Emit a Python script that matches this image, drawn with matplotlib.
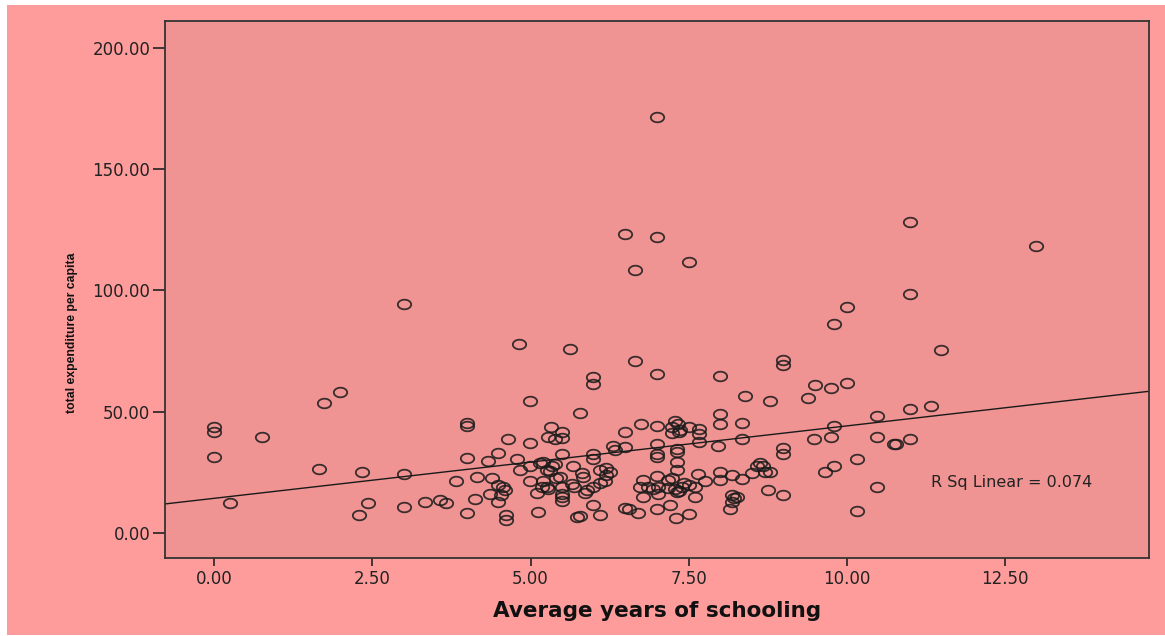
import numpy as np
import matplotlib
matplotlib.use("Agg")
import matplotlib.pyplot as plt
from matplotlib.path import Path
from matplotlib.patches import Rectangle

# points (years of schooling, expenditure per capita)
schooling = [
    0.0, 0.0, 0.0, 0.25, 0.75, 1.66, 1.74, 1.99, 2.29, 2.34, 2.43,
    3.0, 3.0, 3.0, 3.33, 3.57, 3.67, 3.82,
    3.99, 3.99, 3.99, 3.99, 4.12, 4.15, 4.32, 4.36, 4.39,
    4.49, 4.49, 4.57, 4.6, 4.54, 4.49, 4.62, 4.62,
    4.65, 4.79, 4.82, 4.83, 4.99, 4.99, 4.99, 4.99,
    5.1, 5.12, 5.15, 5.2, 5.26, 5.31, 5.39, 5.34,
    5.2, 5.18, 5.26, 5.28, 5.32, 5.28, 5.38, 5.5, 5.5,
    5.41, 5.47, 5.49, 5.49, 5.49, 5.49, 5.49,
    5.62, 5.67, 5.69, 5.65, 5.73, 5.78, 5.79, 5.81, 5.83, 5.86, 5.89,
    5.99, 5.99, 5.99, 5.99, 5.99, 5.99, 6.1,
    6.1, 6.2, 6.26, 6.2, 6.18, 6.1,
    6.31, 6.34, 6.49, 6.49, 6.5, 6.49, 6.55,
    6.66, 6.66, 6.7, 6.74, 6.73, 6.86, 6.94, 7.02, 6.78, 6.78,
    7.0, 7.0, 7.0, 7.0, 7.0, 7.0, 7.0, 7.0, 7.02, 7.0,
    7.18, 7.24, 7.18, 7.29, 7.39, 7.34, 7.5, 7.6, 7.2,
    7.23, 7.28, 7.33, 7.36, 7.23, 7.34, 7.31,
    7.32, 7.32, 7.32, 7.32, 7.3, 7.42, 7.5, 7.5, 7.5, 7.6, 7.65,
    7.67, 7.67, 7.67, 7.76, 7.97, 7.99, 7.99, 8.0, 8.0, 8.0,
    8.15, 8.18, 8.18, 8.21, 8.26, 8.18, 8.34, 8.34, 8.34, 8.39, 8.5,
    8.58, 8.63, 8.68, 8.71, 8.79, 8.75, 8.79,
    9.0, 9.0, 9.0, 9.0, 9.0, 9.39, 9.49, 9.5, 9.66, 9.75, 9.75,
    9.8, 9.8, 9.8, 10.0, 10.0, 10.16, 10.16, 10.48, 10.48, 10.48,
    10.75, 10.78, 11.0, 11.0, 11.0, 11.0, 11.33, 11.49, 13.0,
]
expenditure = [
    43.8, 41.4, 31.1, 12.4, 39.4, 26.2, 53.7, 58.1, 7.2, 25.2, 12.4,
    94.4, 24.3, 10.6, 12.8, 13.6, 12.4, 21.1,
    45.2, 44.0, 31.0, 8.0, 13.9, 22.9, 29.6, 15.8, 22.5,
    32.8, 19.7, 18.7, 17.6, 15.6, 12.8, 7.3, 5.3,
    38.6, 30.3, 77.8, 25.9, 54.5, 36.8, 27.5, 21.1,
    16.5, 8.7, 28.6, 29.3, 25.9, 25.5, 28.4, 27.3,
    21.1, 19.0, 18.8, 17.9, 43.8, 39.5, 38.8, 41.5, 39.2,
    22.5, 23.1, 32.3, 18.8, 16.0, 14.6, 13.2,
    76.0, 27.5, 19.0, 20.1, 6.6, 7.0, 49.5, 24.8, 23.0, 16.3, 17.6,
    64.4, 61.3, 32.3, 30.3, 19.0, 11.4, 7.3,
    25.9, 26.6, 25.2, 23.8, 21.1, 20.4,
    35.8, 34.1, 35.5, 41.7, 123.3, 10.1, 9.6,
    108.5, 71.0, 8.0, 44.8, 19.0, 18.8, 17.9, 18.8, 21.8, 14.6,
    171.8, 122.2, 65.5, 44.2, 36.5, 32.3, 31.1, 23.4, 16.0, 9.9,
    21.8, 22.5, 18.3, 17.9, 18.8, 17.3, 19.7, 19.0, 11.4,
    43.5, 46.0, 44.7, 42.5, 41.2, 41.7, 16.9,
    34.5, 33.2, 29.1, 25.9, 5.9, 20.4, 111.8, 43.8, 7.7, 14.5, 24.2,
    42.8, 40.8, 37.6, 21.1, 35.9, 25.2, 21.8, 64.7, 49.0, 44.8,
    9.7, 23.8, 15.6, 14.2, 14.9, 12.8, 45.4, 38.7, 22.0, 56.6, 24.5,
    27.5, 28.6, 27.3, 25.2, 25.2, 17.6, 54.4,
    71.3, 69.2, 34.8, 32.5, 15.6, 55.7, 38.6, 61.0, 24.9, 59.6, 39.6,
    86.2, 44.1, 27.5, 93.2, 61.9, 30.4, 9.0, 48.2, 39.6, 19.0,
    36.6, 36.6, 128.2, 98.4, 50.9, 38.7, 52.4, 75.3, 118.4,
]

# fit line as drawn in the reference
fit_intercept = 14.16
fit_slope = 2.99
r_sq_text = "R Sq Linear = 0.074"

x_ticks = [0.0, 2.5, 5.0, 7.5, 10.0, 12.5]
y_ticks = [0.0, 50.0, 100.0, 150.0, 200.0]

outer_col = "#fe9c9b"
inner_col = "#ef9492"
ink = "#222222"

fig = plt.figure(figsize=(11.65, 6.36), dpi=100, facecolor="white")
# salmon page with a thin white margin at top/left
fig.patches.append(Rectangle((7 / 1165, 1 / 636), 1, 1 - 6 / 636,
                             transform=fig.transFigure, facecolor=outer_col,
                             edgecolor="none", zorder=-5))

ax = fig.add_axes([165 / 1165, 1 - 558 / 636, (1149 - 165) / 1165, (558 - 21) / 636])
ax.set_facecolor(inner_col)
ax.set_xlim(-0.78, 14.78)
ax.set_ylim(-10.5, 211.3)

# slightly flattened circle like the stretched reference
t = np.linspace(0, 2 * np.pi, 60)
ellipse = Path(np.column_stack([np.cos(t), 0.72 * np.sin(t)]), closed=True)

ax.plot(schooling, expenditure, linestyle="none", marker=ellipse, markersize=9.6,
        markerfacecolor="none", markeredgecolor="#1a1a1a", markeredgewidth=1.3,
        alpha=0.85, zorder=3)

xs = np.array(ax.get_xlim())
ax.plot(xs, fit_intercept + fit_slope * xs, color="#1a1a1a", lw=1.0, zorder=2)

ax.text(11.34, 20.6, r_sq_text, ha="left", va="center", fontsize=11.5,
        color=ink, family="DejaVu Sans")

ax.set_xticks(x_ticks)
ax.set_xticklabels([f"{v:.2f}" for v in x_ticks])
ax.set_yticks(y_ticks)
ax.set_yticklabels([f"{v:.2f}" for v in y_ticks])
ax.tick_params(axis="x", length=6, width=1.2, pad=3, labelsize=12,
               colors=ink)
ax.tick_params(axis="y", length=9, width=1.2, pad=1.5, labelsize=12,
               colors=ink)
for s in ax.spines.values():
    s.set_color("#333333")
    s.set_linewidth(1.3)

ax.set_xlabel("Average years of schooling", fontsize=15.5, fontweight="bold",
              color="#111111", labelpad=9, family="DejaVu Sans")
fig.text(72 / 1165, 1 - 333 / 636, "total expenditure per capita", rotation=90,
         ha="center", va="center", fontsize=8.8, fontweight="bold",
         color="#111111", family=["Liberation Sans Narrow", "Liberation Sans"])

fig.savefig("out.png", dpi=100, facecolor=fig.get_facecolor())
